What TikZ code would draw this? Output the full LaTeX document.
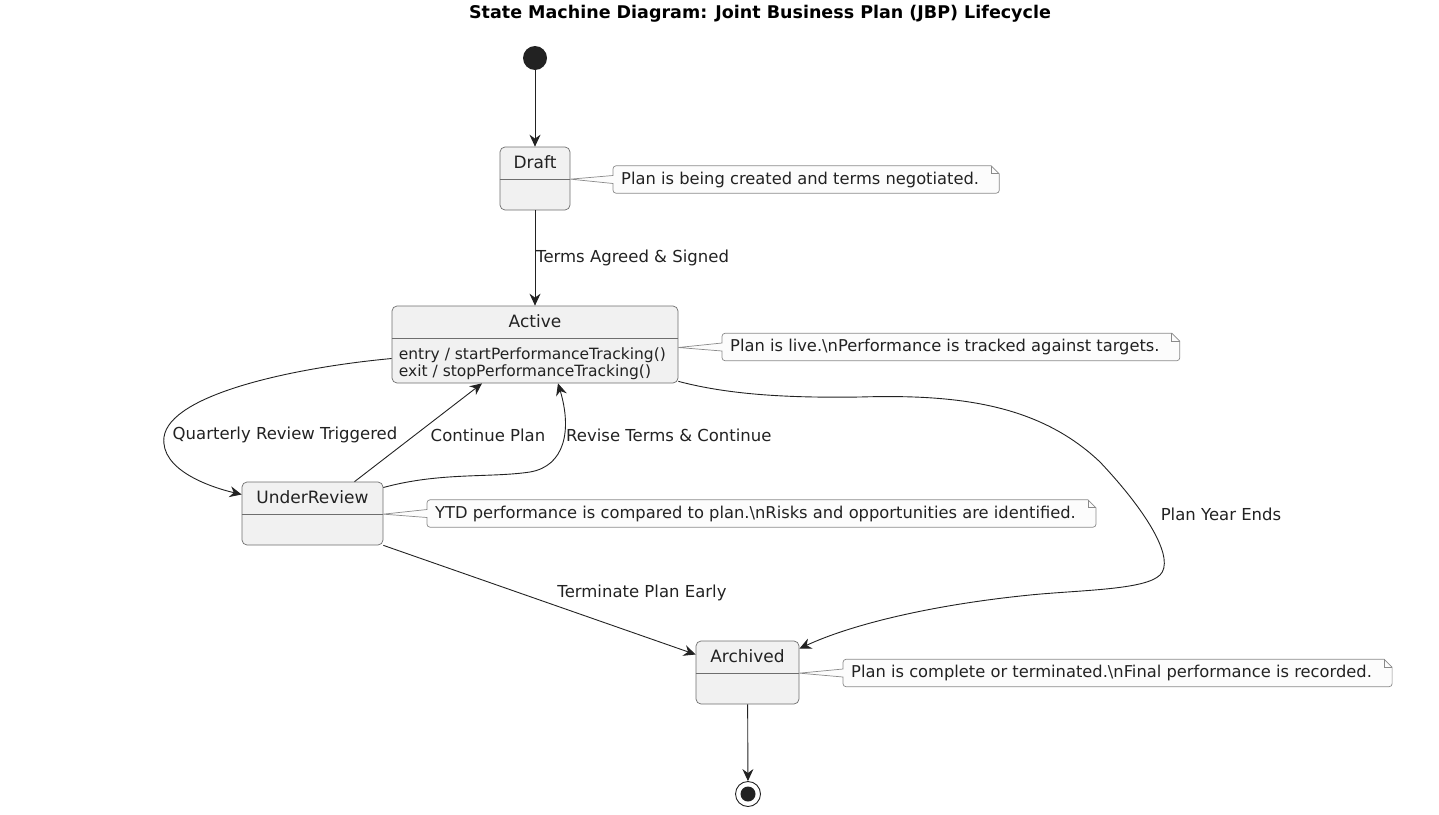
\documentclass[tikz,border=0pt]{standalone}
\usepackage{fontspec}
\setmainfont{DejaVu Sans}
\usetikzlibrary{arrows.meta,backgrounds}
\definecolor{statefill}{HTML}{F1F1F1}
\definecolor{stateline}{HTML}{6E6E6E}
\definecolor{notefill}{HTML}{FCFCFC}
\definecolor{noteline}{HTML}{8A8A8A}
\definecolor{ink}{HTML}{222222}
\tikzset{
  state/.style={draw=stateline, line width=.7pt, fill=statefill, rounded corners=5pt, inner sep=0pt},
  statename/.style={font=\fontsize{17}{19}\selectfont, text=ink, inner sep=0pt},
  statebody/.style={font=\fontsize{15.5}{17}\selectfont, text=ink, align=left, anchor=west, inner sep=0pt},
  notetext/.style={font=\fontsize{16.3}{18}\selectfont, text=ink, anchor=west, inner xsep=8pt, inner ysep=0pt, minimum height=27pt},
  notebox/.style={draw=noteline, line width=.7pt, fill=notefill},
  trans/.style={draw=ink, line width=.9pt, -{Stealth[length=12pt,width=11pt,inset=4pt]}},
  tlabel/.style={font=\fontsize{16.5}{18}\selectfont, text=ink, inner sep=0pt},
  initstate/.style={circle, fill=ink, minimum size=24pt, inner sep=0pt},
  finalring/.style={circle, draw=ink, line width=.9pt, fill=white, minimum size=25pt, inner sep=0pt},
  finaldot/.style={circle, fill=ink, minimum size=15pt, inner sep=0pt}
}
% note outline: (note node)(tip of the wedge)
\def\noteoutline(#1)(#2){\draw[notebox] ([yshift=4pt]#1.west) -- (#2) -- ([yshift=-4pt]#1.west) [rounded corners=3pt] -- (#1.south west) -- ([xshift=12pt]#1.south east) [sharp corners] -- ([xshift=12pt,yshift=-8pt]#1.north east) -- ([xshift=4pt]#1.north east) [rounded corners=3pt] -- (#1.north west) [sharp corners] -- cycle;
  \draw[notebox, fill=none] ([xshift=4pt]#1.north east) -- ([xshift=4pt,yshift=-8pt]#1.north east) -- ([xshift=12pt,yshift=-8pt]#1.north east);}
\def\headerline(#1){\draw[stateline, line width=.7pt] ([yshift=-32.5pt]#1.north west) -- ([yshift=-32.5pt]#1.north east);}

\begin{document}
\begin{tikzpicture}[x=1pt, y=-1pt]
  \useasboundingbox (0,0) rectangle (1439,814);
  %%%%% TITLE %%%%%
  \node[font=\fontsize{17.5}{20}\selectfont\bfseries, text=black] (title) at (760,14) {State Machine Diagram: Joint Business Plan (JBP) Lifecycle};

  %%%%% STATES %%%%%
  \node[initstate] (start) at (535,58) {};

  \node[state, minimum width=70pt, minimum height=63pt] (draft) at (535,178.5) {};
  \headerline(draft)
  \node[statename] (draft-name) at ([yshift=-16pt]draft.north) {Draft};

  \node[state, minimum width=286pt, minimum height=77pt] (active) at (535,344.5) {};
  \headerline(active)
  \node[statename] (active-name) at ([yshift=-16pt]active.north) {Active};
  \node[statebody] (active-body) at ([xshift=7pt,yshift=-19pt]active.west) {entry / startPerformanceTracking()\\exit / stopPerformanceTracking()};

  \node[state, minimum width=141pt, minimum height=63pt] (ur) at (312.5,513.5) {};
  \headerline(ur)
  \node[statename] (ur-name) at ([yshift=-16pt]ur.north) {UnderReview};

  \node[state, minimum width=103pt, minimum height=63pt] (archived) at (747.5,672.5) {};
  \headerline(archived)
  \node[statename] (archived-name) at ([yshift=-16pt]archived.north) {Archived};

  \node[finalring] (stop) at (748,794) {};
  \node[finaldot] (stop-dot) at (stop) {};

  %%%%% NOTES %%%%%
  \node[notetext] (draft-note) at (613,179.5) {Plan is being created and terms negotiated.};
  \node[notetext] (active-note) at (722,347) {Plan is live.\textbackslash nPerformance is tracked against targets.};
  \node[notetext] (ur-note) at (427,513.5) {YTD performance is compared to plan.\textbackslash nRisks and opportunities are identified.};
  \node[notetext] (archived-note) at (843,673) {Plan is complete or terminated.\textbackslash nFinal performance is recorded.};
  \begin{scope}[on background layer]
    \noteoutline(draft-note)([yshift=-32.5pt]draft.north east)
    \noteoutline(active-note)([yshift=-3pt]active.east)
    \noteoutline(ur-note)([yshift=-32.5pt]ur.north east)
    \noteoutline(archived-note)([yshift=-32.5pt]archived.north east)
  \end{scope}

  %%%%% TRANSITIONS %%%%%
  \draw[trans] (start) -- (draft);
  \draw[trans] (draft) -- (active);
  \node[tlabel, anchor=west] (lbl-signed) at (536,258) {Terms Agreed \& Signed};

  \draw[trans] ([yshift=-14pt]active.west) .. controls (290,368) and (170,395) .. (164,437)
    .. controls (160,470) and (210,487) .. ([yshift=19pt]ur.west);
  \node[tlabel] (lbl-quarterly) at (285,435) {Quarterly Review Triggered};

  \draw[trans] ([xshift=42pt]ur.north) -- ([xshift=-53pt]active.south);
  \node[tlabel] (lbl-continue) at (488,435) {Continue Plan};

  \draw[trans] ([yshift=26pt]ur.east) .. controls (440,472) and (490,478) .. (530,472)
    .. controls (565,466) and (572,430) .. ([xshift=23pt]active.south);
  \node[tlabel, anchor=west] (lbl-revise) at (566,435) {Revise Terms \& Continue};

  \draw[trans] ([yshift=2pt]active.south east) .. controls (730,395) and (790,398) .. (860,397)
    .. controls (960,394) and (1040,405) .. (1100,462)
    .. controls (1150,515) and (1175,560) .. (1160,575)
    .. controls (1145,590) and (1080,590) .. (1030,595)
    .. controls (930,605) and (850,625) .. ([yshift=-8pt]archived.north east);
  \node[tlabel] (lbl-yearend) at (1221,514) {Plan Year Ends};

  \draw[trans] (ur.south east) -- ([yshift=18pt]archived.west);
  \node[tlabel] (lbl-terminate) at (642,593) {Terminate Plan Early};

  \draw[trans] (archived) -- (stop);
\end{tikzpicture}
\end{document}
